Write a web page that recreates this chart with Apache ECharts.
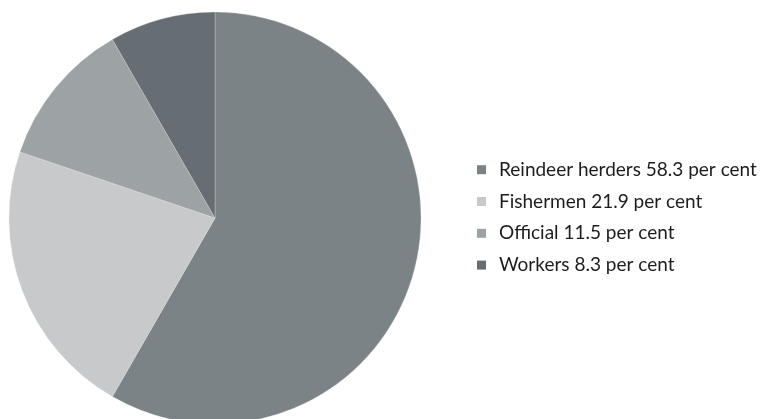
<!DOCTYPE html>
<html>
<head>
<meta charset="utf-8">
<script src="https://cdn.jsdelivr.net/npm/echarts@6/dist/echarts.min.js"></script>
<style>
    html, body { margin: 0; padding: 0; background: #fff; }
    #chart { width: 766px; height: 419px; }
</style>
</head>
<body>
<div id="chart"></div>
<script>
const categories = ["Reindeer herders", "Fishermen", "Official", "Workers"];
const shares = [58.3, 21.9, 11.5, 8.3];
const sliceColors = ["#7c8386", "#c8c9cb", "#9da2a4", "#666e74"];

const chart = echarts.init(document.getElementById("chart"));

chart.setOption({
    animation: false,
    color: sliceColors,
    legend: {
        orient: "vertical",
        left: 477,
        top: 158.7,
        padding: 0,
        itemWidth: 9,
        itemHeight: 9,
        itemGap: 9.8,
        icon: "rect",
        itemStyle: { borderWidth: 0 },
        formatter: (name) => {
            const i = categories.indexOf(name);
            return `${name} ${shares[i]} per cent`;
        },
        textStyle: {
            fontFamily: "Lato",
            fontSize: 19,
            lineHeight: 22,
            color: "#1e1c1d",
            padding: [0, 0, 0, 8],
        },
        data: categories,
    },
    series: [
        {
            type: "pie",
            center: [215, 218],
            radius: 206,
            startAngle: 90,
            clockwise: true,
            label: { show: false },
            labelLine: { show: false },
            emphasis: { disabled: true },
            itemStyle: {
                borderColor: "#e8e9ea",
                borderWidth: 0.3,
            },
            data: categories.map((name, i) => ({ name, value: shares[i] })),
        },
    ],
});
</script>
</body>
</html>
